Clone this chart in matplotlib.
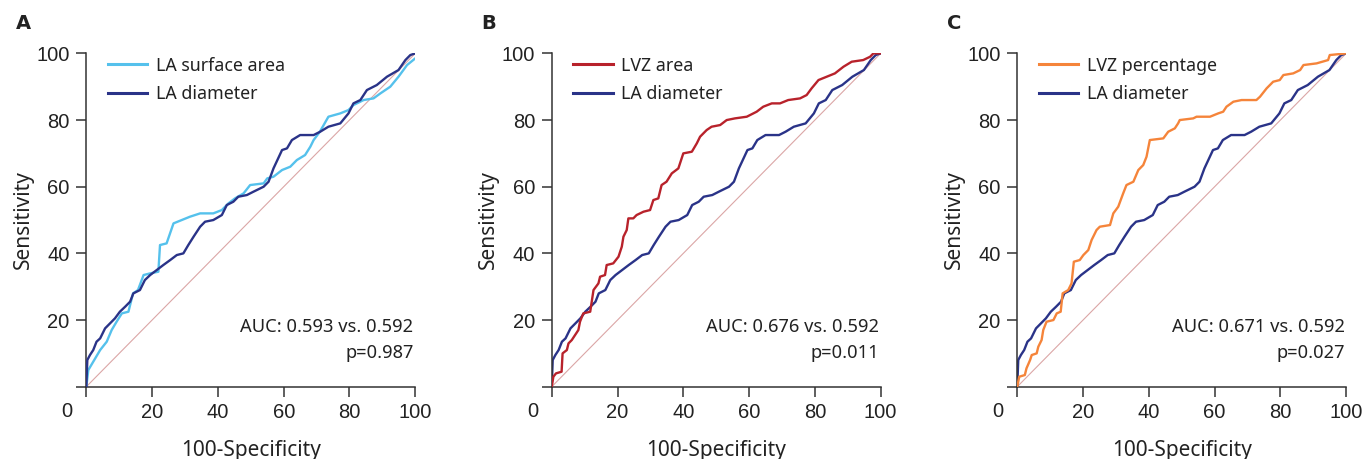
import matplotlib.pyplot as plt

# ROC curves: (100-specificity, sensitivity)
la_diam_x = [0, 0.3, 1.1, 2.1, 3.1, 4.2, 5.7, 7.2, 8.7, 10.2, 11.8, 13.3, 14.3, 16.3, 17.8, 19.4,
             21.4, 23.4, 25.5, 27.5, 29.5, 31.0, 32.6, 34.6, 36.1, 38.6, 41.2, 42.7, 44.7, 46.2,
             48.8, 50.8, 53.9, 55.4, 56.9, 59.5, 61.0, 62.5, 65.0, 69.1, 71.1, 73.6, 77.2, 79.7,
             81.2, 83.3, 85.3, 88.3, 91.4, 94.9, 97.0, 98.5, 100]
la_diam_y = [0, 8, 9.5, 11, 13.5, 14.5, 17.5, 19, 20.5, 22.5, 24, 25.5, 28, 29, 32, 33.5,
             35, 36.5, 38, 39.5, 40, 42.5, 45, 48, 49.5, 50, 51.5, 54.5, 55.5, 57,
             57.5, 58.5, 60, 61.5, 65.5, 71, 71.5, 74, 75.5, 75.5, 76.5, 78, 79, 82,
             85, 86, 89, 90.5, 93, 95, 98, 99.5, 100]

la_area_x = [0, 0.6, 2.1, 4.2, 6.2, 7.7, 9.2, 10.8, 12.8, 14.2, 15.7, 17.4, 19.4, 21.9, 22.4,
             24.4, 26.5, 29.0, 31.5, 34.6, 38.6, 41.2, 43.2, 45.2, 47.8, 49.8, 53.9, 55.0,
             56.9, 59.5, 62.0, 64.0, 66.5, 68.1, 69.1, 71.0, 73.6, 77.2, 79.7, 81.2, 84.3,
             87.3, 89.4, 92.4, 94.9, 97.5, 100]
la_area_y = [0, 5, 7.5, 11, 13.5, 17, 19.5, 22, 22.5, 28, 29, 33.5, 34, 34.5, 42.5,
             43, 49, 50, 51, 52, 52, 53, 55, 56.5, 58, 60.5, 61, 62.5,
             63, 65, 66, 68, 69.5, 72, 74, 76.5, 81, 82, 83, 84.5, 86,
             86.5, 88, 90, 93, 96.5, 98.5]

lvz_area_x = [0, 0.5, 1.3, 3.0, 3.3, 4.6, 5.1, 6.1, 7.1, 8.1, 8.6, 9.6, 11.7, 12.7, 14.2, 14.7,
              16.2, 16.7, 18.7, 20.3, 21.3, 21.8, 22.8, 23.3, 24.8, 25.8, 27.9, 29.9, 30.9,
              32.4, 33.4, 34.9, 36.5, 38.5, 40.0, 42.6, 44.1, 45.1, 47.1, 48.6, 51.2, 53.2,
              55.7, 59.3, 62.3, 64.3, 66.9, 69.4, 71.9, 75.5, 77.5, 79.0, 81.1, 83.6, 86.1,
              88.7, 91.2, 94.7, 96.8, 97.8, 100]
lvz_area_y = [0, 3, 4, 4.5, 10, 11, 13, 14, 15.5, 17, 19.5, 22, 22.5, 29, 31, 33,
              33.5, 36.5, 37, 39, 42, 45, 47, 50.5, 50.5, 51.5, 52.5, 53, 56,
              56.5, 60.5, 61.5, 64, 65.5, 70, 70.5, 73, 75, 77, 78, 78.5, 80,
              80.5, 81, 82.5, 84, 85, 85, 86, 86.5, 87.5, 89.5, 92, 93, 94,
              96, 97.5, 98, 99, 100, 100]

lvz_pct_x = [0, 0.6, 2.3, 2.8, 3.9, 4.4, 5.9, 6.4, 7.4, 7.9, 8.9, 11.0, 12.0, 13.2, 13.8, 15.5,
             16.5, 17.2, 19.0, 20.1, 21.6, 22.6, 24.1, 25.1, 28.2, 29.2, 30.7, 32.2, 33.2,
             35.3, 36.8, 38.3, 39.3, 40.3, 44.4, 45.9, 47.9, 48.9, 49.4, 53.5, 54.5, 58.6,
             61.1, 62.6, 63.6, 65.7, 68.2, 72.7, 73.8, 75.8, 77.8, 79.8, 80.9, 83.9, 86.0,
             87.0, 91.0, 94.5, 95.0, 100]
lvz_pct_y = [0, 3, 3.5, 5.5, 8, 9.5, 10, 12, 14, 17, 19.5, 20, 22, 22.5, 28, 29,
             31, 37.5, 38, 39.5, 41, 44, 47, 48, 48.5, 52, 54, 58, 60.5,
             61.5, 65, 66.5, 69, 74, 74.5, 76.5, 77.5, 79, 80, 80.5, 81, 81,
             82, 82.5, 84, 85.5, 86, 86, 87, 89.5, 91.5, 92, 93.5, 94, 95,
             96.5, 97, 98, 99.5, 100]

panels = [
    ('A', la_area_x, la_area_y, 'LA surface area', '#55c1ec', 'AUC: 0.593 vs. 0.592', 'p=0.987'),
    ('B', lvz_area_x, lvz_area_y, 'LVZ area', '#b8222b', 'AUC: 0.676 vs. 0.592', 'p=0.011'),
    ('C', lvz_pct_x, lvz_pct_y, 'LVZ percentage', '#f5843a', 'AUC: 0.671 vs. 0.592', 'p=0.027'),
]
navy = '#2a3388'
lefts = [0.0632, 0.4039, 0.7447]

fig = plt.figure(figsize=(13.66, 4.59), dpi=100)
txt_font = 'Noto Sans'
tick_font = 'Liberation Sans'

for (letter, xs, ys, label, color, auc, pval), left in zip(panels, lefts):
    ax = fig.add_axes([left, 0.1575, 0.2408, 0.7262])
    ax.plot([0, 100], [0, 100], color='#dba6a6', lw=0.8, zorder=1)
    ax.plot(xs, ys, color=color, lw=1.7, label=label, zorder=3 if letter != 'A' else 2)
    ax.plot(la_diam_x, la_diam_y, color=navy, lw=1.7, label='LA diameter',
            zorder=2 if letter != 'A' else 3)
    ax.set_xlim(0, 100)
    ax.set_ylim(0, 100)
    for s in ['top', 'right']:
        ax.spines[s].set_visible(False)
    for s in ['left', 'bottom']:
        ax.spines[s].set_color('#333333')
        ax.spines[s].set_linewidth(1.1)
        ax.spines[s].set_clip_on(False)
    ax.set_xticks([0, 20, 40, 60, 80, 100])
    ax.set_xticklabels(['', '20', '40', '60', '80', '100'])
    ax.set_yticks([0, 20, 40, 60, 80, 100])
    ax.set_yticklabels(['', '20', '40', '60', '80', '100'])
    ax.tick_params(direction='out', length=7, width=1.1, color='#333333',
                   labelsize=14.5, labelcolor='#222222', pad=5)
    for t in ax.get_xticklabels() + ax.get_yticklabels():
        t.set_fontfamily(tick_font)
    ax.text(-0.058, -0.075, '0', transform=ax.transAxes, ha='center', va='center',
            fontsize=14.5, color='#222222', family=tick_font)
    ax.set_xlabel('100-Specificity', fontsize=15, family=txt_font, color='#222222', labelpad=13)
    ax.set_ylabel('Sensitivity', fontsize=15, family=txt_font, color='#222222', labelpad=2)
    ax.text(-0.215, 1.09, letter, transform=ax.transAxes, fontsize=14, fontweight='bold',
            family='DejaVu Sans', color='#222222', va='center', ha='left')
    ax.text(0.995, 0.18, auc, transform=ax.transAxes, ha='right', va='center',
            fontsize=13.2, family=txt_font, color='#222222')
    ax.text(0.995, 0.1, pval, transform=ax.transAxes, ha='right', va='center',
            fontsize=13.2, family=txt_font, color='#222222')
    leg = ax.legend(loc='upper left', bbox_to_anchor=(0.066, 0.99), frameon=False,
                    borderpad=0, borderaxespad=0, handlelength=2.2, handletextpad=0.5,
                    labelspacing=0.6, prop={'family': txt_font, 'size': 12.8})
    for t in leg.get_texts():
        t.set_color('#222222')
    for h in leg.get_lines():
        h.set_linewidth(2.2)

fig.savefig('out.png', dpi=100)
